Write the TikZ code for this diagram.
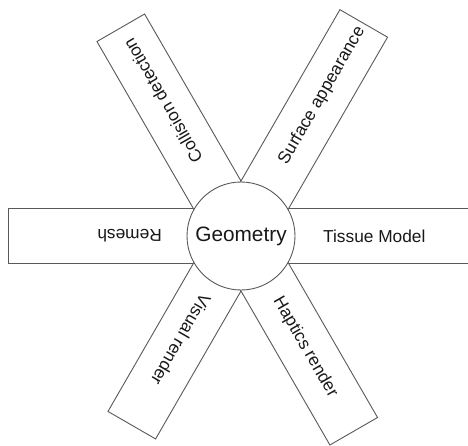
\documentclass[tikz,border=0pt]{standalone}
\usepackage{fontspec}
\setmainfont{Liberation Sans}
\begin{document}
\begin{tikzpicture}[x=1pt,y=1pt,
  bar/.style={draw=black!65, line width=0.9pt, minimum height=55pt, inner sep=0pt, anchor=west, fill=white},
  lbl/.style={anchor=west, inner sep=0pt, font=\fontsize{17.3}{19}\selectfont, text=black!90},
  hub/.style={circle, draw=black!65, line width=0.9pt, fill=white, minimum size=108pt, inner sep=0pt, font=\fontsize{20.8}{22}\selectfont, text=black!90}]
\useasboundingbox (-241,-209) rectangle (227,236);
\clip (-241,-209) rectangle (227,236);
\coordinate (c) at (0,0);
% bars
\node[bar, minimum width=250pt, rotate=0]   (bR)  at (c) {};
\node[bar, minimum width=232pt, rotate=180] (bL)  at (c) {};
\node[bar, minimum width=240pt, rotate=120] (bUL) at (c) {};
\node[bar, minimum width=245pt, rotate=60]  (bUR) at (c) {};
\node[bar, minimum width=218pt, rotate=240] (bLL) at (c) {};
\node[bar, minimum width=225pt, rotate=300] (bLR) at (c) {};
% labels
\node[lbl, rotate=0]   (tR)  at (0:82)   {Tissue Model};
\node[lbl, rotate=180] (tL)  at (180:79) {Remesh};
\node[lbl, rotate=120] (tUL) at (120:86) {Collision detection};
\node[lbl, rotate=60]  (tUR) at (60:84)  {Surface appearance};
\node[lbl, rotate=240] (tLL) at (240:69) {Visual render};
\node[lbl, rotate=300] (tLR) at (300:72) {Haptics render};
% hub
\node[hub] (g) at (c) {Geometry};
\end{tikzpicture}
\end{document}
